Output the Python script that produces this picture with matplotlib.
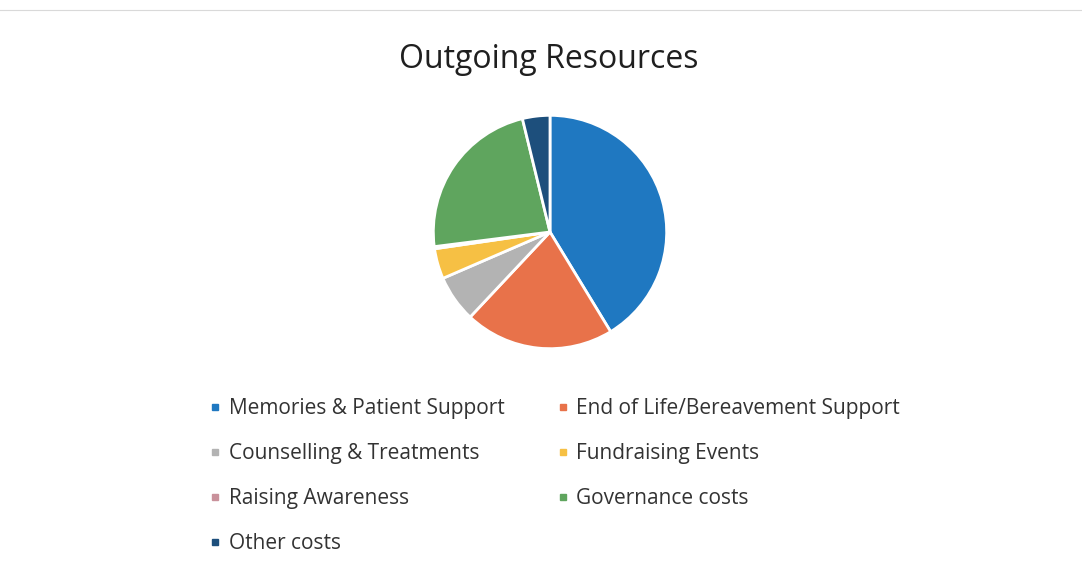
import matplotlib
matplotlib.use("Agg")
import matplotlib.pyplot as plt
from matplotlib.lines import Line2D

plt.rcParams['font.family'] = ['Open Sans', 'DejaVu Sans']

# data (percent of outgoing resources)
categories = ["Memories & Patient Support", "End of Life/Bereavement Support",
              "Counselling & Treatments", "Fundraising Events",
              "Raising Awareness", "Governance costs", "Other costs"]
shares = [41.3, 20.7, 6.5, 4.2, 0.3, 23.2, 3.8]
colors = ["#1f78c1", "#e8724a", "#b3b3b3", "#f6c044",
          "#c9919b", "#5fa55e", "#1d4f7c"]

fig = plt.figure(figsize=(10.82, 5.69), dpi=100)
fig.patch.set_facecolor("white")

# faint scan border at the top
fig.add_artist(Line2D([0.0, 1.0], [1 - 10 / 569, 1 - 10 / 569], color="#d9d9d9", linewidth=0.8))

fig.text(549 / 1082, 1 - 59 / 569, "Outgoing Resources", ha="center", va="center",
         fontsize=23, color="#1f1f1f")

# pie axes placed by pixel estimates
cx, cy, r = 550, 232, 119
ax = fig.add_axes([(cx - r) / 1082, (569 - cy - r) / 569, 2 * r / 1082, 2 * r / 569])
ax.pie(shares, colors=colors, startangle=90, counterclock=False, radius=1.0,
       wedgeprops=dict(edgecolor="white", linewidth=2))
ax.set_xlim(-1.02, 1.02)
ax.set_ylim(-1.02, 1.02)
ax.set_aspect("equal")
ax.axis("off")

# legend, row-major in the picture -> reorder for column-major fill
handles = [Line2D([], [], marker="s", linestyle="none", markersize=4.5,
                  markerfacecolor=c, markeredgecolor=c) for c in colors]
order = [0, 2, 4, 6, 1, 3, 5]
fig.legend([handles[i] for i in order], [categories[i] for i in order],
           ncol=2, loc="upper left", bbox_to_anchor=(209 / 1082, 1 - 398 / 569),
           frameon=False, fontsize=15, handlelength=0.6, handletextpad=0.35,
           labelspacing=1.15, columnspacing=2.5, labelcolor="#333333",
           borderaxespad=0, borderpad=0)

fig.savefig("out.png", dpi=100, facecolor="white")
